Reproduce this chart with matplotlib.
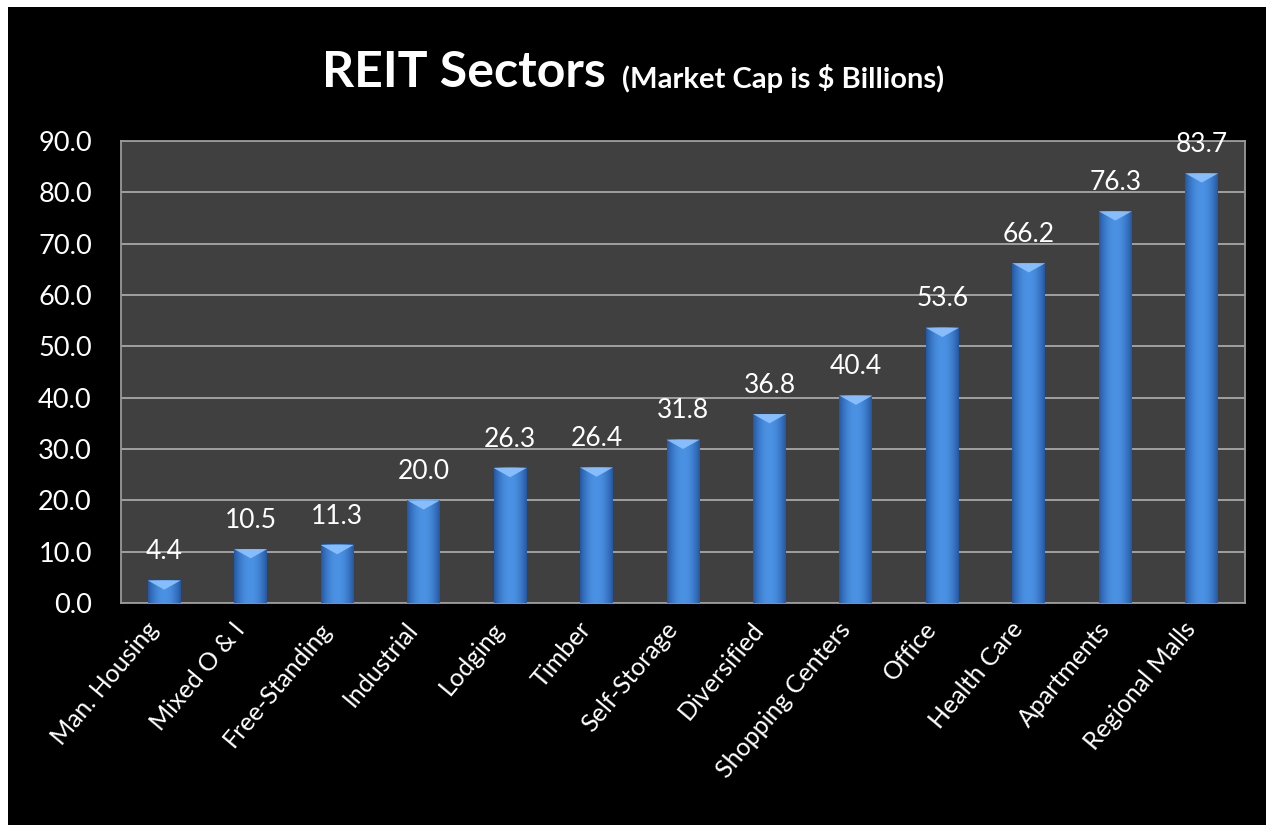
import numpy as np
import matplotlib
matplotlib.use('Agg')
import matplotlib.pyplot as plt
import matplotlib.transforms as mtransforms
from matplotlib.patches import Rectangle, Polygon

# REIT sectors, market cap in $ billions
sectors = ['Man. Housing', 'Mixed O & I', 'Free-Standing', 'Industrial', 'Lodging',
           'Timber', 'Self-Storage', 'Diversified', 'Shopping Centers', 'Office',
           'Health Care', 'Apartments', 'Regional Malls']
market_cap = [4.4, 10.5, 11.3, 20.0, 26.3, 26.4, 31.8, 36.8, 40.4, 53.6, 66.2, 76.3, 83.7]

plt.rcParams['font.family'] = ['Lato', 'DejaVu Sans']

fig = plt.figure(figsize=(12.66, 8.25), dpi=100, facecolor='white')
# black background panel with thin white margin top/left
fig.patches.append(Rectangle((8/1266, 0), 1 - 8/1266, 1 - 7/825, transform=fig.transFigure,
                             facecolor='black', edgecolor='none', zorder=-10))

ax = fig.add_axes([121/1266, 1 - 603/825, (1245 - 121)/1266, (603 - 141)/825])
ax.set_facecolor('#404040')
x = np.arange(len(sectors))
w = 0.38

ax.set_yticks(np.arange(0, 91, 10))
ax.set_yticklabels(['%.1f' % v for v in np.arange(0, 91, 10)], color='white', fontsize=19.5)
ax.yaxis.grid(True, color='#a8a8a8', linewidth=1.3)
ax.set_axisbelow(True)
ax.tick_params(axis='both', length=0)
ax.tick_params(axis='y', pad=21)
ax.tick_params(axis='x', pad=16)
for s in ax.spines.values():
    s.set_color('#9a9a9a')
    s.set_linewidth(1.3)

# horizontal gradient for cylinder-ish bars
grad = np.linspace(0, 1, 64)
prof = 1 - (2 * grad - 1) ** 2
cmap = matplotlib.colors.LinearSegmentedColormap.from_list('b', ['#1d4d96', '#4b92e4'])
img = cmap(0.15 + 0.85 * prof)[np.newaxis, :, :]

bars = ax.bar(x, market_cap, width=w, color='#3a7fd5', edgecolor='none', zorder=2)
for b, v in zip(bars, market_cap):
    x0 = b.get_x()
    ax.imshow(img, extent=(x0, x0 + w, 0, v), aspect='auto', zorder=3, interpolation='bicubic')
    cap = Polygon([(x0, v), (x0 + w, v), (x0 + w * 0.5, v - 1.8)], closed=True,
                  facecolor='#8fc3ff', edgecolor='none', zorder=4, alpha=0.9)
    ax.add_patch(cap)
    ax.text(b.get_x() + w / 2, v + 3.2, '%.1f' % v, ha='center', va='bottom',
            color='white', fontsize=19, zorder=5)
ax.set_xlim(-0.5, len(sectors) - 0.5)
ax.set_ylim(0, 90)

ax.set_xticks(x)
ax.set_xticklabels(sectors, rotation=50, ha='right', va='center', rotation_mode='anchor',
                   color='white', fontsize=18)
shift = mtransforms.ScaledTranslation(-10/100, 0, fig.dpi_scale_trans)
for lbl in ax.get_xticklabels():
    lbl.set_transform(lbl.get_transform() + shift)

fig.text(322/1266, 0.912, 'REIT Sectors', color='white', fontsize=36, fontweight='bold',
         ha='left', va='center')
fig.text(622/1266, 0.905, '(Market Cap is $ Billions)', color='white', fontsize=21,
         fontweight='bold', ha='left', va='center')

fig.savefig('out.png', dpi=100, facecolor=fig.get_facecolor())
